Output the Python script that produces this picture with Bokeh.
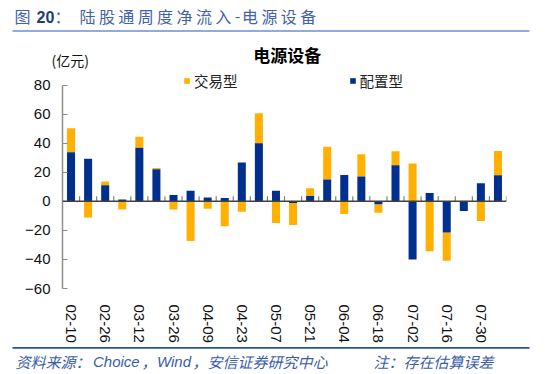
from math import pi
from bokeh.plotting import figure
from bokeh.layouts import column
from bokeh.models import (ColumnDataSource, FixedTicker, Label, Legend, LegendItem,
                          BoxAnnotation, Range1d, Span)
from bokeh.embed import file_html
from bokeh.resources import INLINE

# ---------------- data ----------------
dates = ["02-10", "02-19", "02-26", "03-05", "03-12", "03-19", "03-26", "04-02",
         "04-09", "04-16", "04-23", "04-30", "05-07", "05-14", "05-21", "05-28",
         "06-04", "06-11", "06-18", "06-25", "07-02", "07-09", "07-16", "07-23",
         "07-30", "08-06"]
peizhi = [33.7, 29.3, 11.0, 1.3, 36.9, 22.1, 4.3, 7.2, 2.7, 2.2, 26.8, 40.0, 7.3,
          -1.1, 3.6, 15.0, 18.1, 17.0, -2.0, 24.8, -40.0, 5.8, -21.5, -6.7, 12.5, 17.9]
jiaoyi = [16.6, -11.2, 2.6, -5.6, 7.6, 0.9, -5.6, -27.3, -5.1, -17.2, -7.2, 20.6, -14.9,
          -15.2, 5.4, 22.6, -8.7, 15.4, -5.8, 9.6, 26.0, -34.4, -19.4, 0.4, -13.6, 16.8]
y_ticks = [-60, -40, -20, 0, 20, 40, 60, 80]
series_names = ["交易型", "配置型"]
title_main = "陆股通周度净流入-电源设备"
chart_title = "电源设备"
unit_text = "(亿元)"
source_text = ["资料来源：", "Choice", "，", "Wind", "，安信证券研究中心"]
note_text = "注：存在估算误差"

BLUE = "#002F8E"
ORANGE = "#FFB000"
CJK = "Noto Sans CJK SC"
LAT = "Liberation Sans"
W = 550
n = len(dates)

# stacked positions (positive and negative stacks separately)
x = list(range(n))
b_bot, b_top, o_bot, o_top = [], [], [], []
for b, o in zip(peizhi, jiaoyi):
    pos, neg = 0.0, 0.0
    if b >= 0:
        b_bot.append(0.0); b_top.append(b); pos = b
    else:
        b_bot.append(b); b_top.append(0.0); neg = b
    if o >= 0:
        o_bot.append(pos); o_top.append(pos + o)
    else:
        o_bot.append(neg + o); o_top.append(neg)

src = ColumnDataSource(dict(x=x, b_bot=b_bot, b_top=b_top, o_bot=o_bot, o_top=o_top))


def text_fig(y0, y1):
    """A figure whose frame is the whole canvas, in page pixel coordinates."""
    f = figure(width=W, height=y1 - y0, output_backend="svg", toolbar_location=None,
               x_range=Range1d(0, W), y_range=Range1d(y1, y0),
               x_axis_location=None, y_axis_location=None,
               min_border_left=0, min_border_right=0, min_border_top=0,
               min_border_bottom=0, frame_align=False)
    f.outline_line_color = None
    f.grid.visible = False
    f.background_fill_color = "white"
    f.border_fill_color = "white"
    return f


def lab(f, txt, X, Y, size, color, font=CJK, style="normal", align="left"):
    f.add_layout(Label(x=X, y=Y, text=txt, text_font=font, text_font_size=size,
                       text_color=color, text_font_style=style,
                       text_align=align, text_baseline="middle"))


# ---------------- header (title, rule, chart title, unit) ----------------
HEAD_H = 69
head = text_fig(0, HEAD_H)
TITLE_C = "#3F62A8"
lab(head, "图", 14, 15.5, "16px", TITLE_C)
lab(head, "20", 36, 16, "16px", "#1F3B78", font=LAT, style="bold")
lab(head, "：", 54, 15.5, "16px", TITLE_C)
xc = 79.0
for ch in title_main:
    lab(head, ch, xc, 15.5, "16px", TITLE_C)
    xc += 7.3 if ch == "-" else 19.4
head.add_layout(BoxAnnotation(left=12, right=529, top=29.8, bottom=31.3,
                              fill_color="#6F8FCF", fill_alpha=1, line_color=None))
lab(head, chart_title, 286.7, 54, "17px", "#000000", style="bold", align="center")
lab(head, unit_text, 51, 59.5, "14px", "#111111")

# ---------------- main chart ----------------
MAIN_TOP, MAIN_BOT = HEAD_H, 345
F_LEFT, F_RIGHT, F_BOT = 62, 506, 294
Y80, YM60 = 85, 294
ppu_y = (YM60 - Y80) / (80 - (-60))
y_end = 80 + (Y80 - MAIN_TOP) / ppu_y

p = figure(width=W, height=MAIN_BOT - MAIN_TOP, output_backend="svg",
           toolbar_location=None, frame_align=False,
           x_range=Range1d(-0.5, n - 0.5), y_range=Range1d(-60, y_end),
           min_border_left=F_LEFT, min_border_right=W - F_RIGHT, min_border_top=0,
           min_border_bottom=MAIN_BOT - F_BOT)
p.outline_line_color = None
p.xgrid.visible = False
p.ygrid.visible = False
p.background_fill_color = "white"
p.border_fill_color = "white"

r_o = p.vbar(x="x", bottom="o_bot", top="o_top", width=0.47, source=src,
             fill_color=ORANGE, line_color=None)
r_b = p.vbar(x="x", bottom="b_bot", top="b_top", width=0.47, source=src,
             fill_color=BLUE, line_color=None)

# zero line with category-boundary ticks
p.add_layout(Span(location=0, dimension="width", line_color="#404040", line_width=1.4))
p.ray(x=[i + 0.5 for i in x], y=[0] * n, length=5, length_units="screen",
      angle=pi / 2, line_color="#7f7f7f", line_width=1.2)

# y axis (line and ticks limited to the value range)
ya = p.yaxis[0]
ya.ticker = FixedTicker(ticks=y_ticks)
ya.bounds = (-60, 80)
ya.major_tick_in = 5
ya.major_tick_out = 0
ya.minor_tick_line_color = None
ya.axis_line_color = "#8c8c8c"
ya.axis_line_width = 1.5
ya.major_tick_line_color = "#8c8c8c"
ya.major_tick_line_width = 1.2
ya.major_label_text_font = LAT
ya.major_label_text_font_size = "15px"
ya.major_label_text_color = "#111111"
ya.major_label_standoff = 12

# x axis labels
xa = p.xaxis[0]
xa.ticker = FixedTicker(ticks=x[::2])
xa.major_label_overrides = {i: dates[i] for i in x[::2]}
xa.major_label_orientation = "vertical"
xa.axis_line_color = None
xa.major_tick_line_color = None
xa.minor_tick_line_color = None
xa.major_label_text_font = LAT
xa.major_label_text_font_size = "15px"
xa.major_label_text_color = "#111111"
xa.major_label_standoff = 10

# legends (location measured from frame bottom-left)
lg1 = Legend(items=[LegendItem(label=series_names[0], renderers=[r_o])],
             location=(183 - F_LEFT, F_BOT - 97))
lg2 = Legend(items=[LegendItem(label=series_names[1], renderers=[r_b])],
             location=(348.5 - F_LEFT, F_BOT - 97))
for lg in (lg1, lg2):
    lg.glyph_width = 7
    lg.glyph_height = 7
    lg.label_standoff = 4
    lg.padding = 0
    lg.margin = 0
    lg.spacing = 0
    lg.border_line_color = None
    lg.background_fill_alpha = 0
    lg.label_text_font = CJK
    lg.label_text_font_size = "14.5px"
    lg.label_text_color = "#222222"
    p.add_layout(lg, "center")

# ---------------- footer ----------------
foot = text_fig(MAIN_BOT, 374)
foot.add_layout(BoxAnnotation(left=12, right=529, top=346.6, bottom=348.2,
                              fill_color="#2553A5", fill_alpha=1, line_color=None))
FOOT_C = "#3A5DA8"
foot_x = [15, 92.5, 141, 156.5, 192]
for t, fx in zip(source_text, foot_x):
    lab(foot, t, fx, 361, "15px", FOOT_C,
        font=LAT if t.isascii() else CJK, style="italic")
lab(foot, note_text, 373, 361, "15px", FOOT_C, style="italic")

layout = column(head, p, foot, spacing=0)
open("out.html", "w").write(file_html(layout, INLINE))
